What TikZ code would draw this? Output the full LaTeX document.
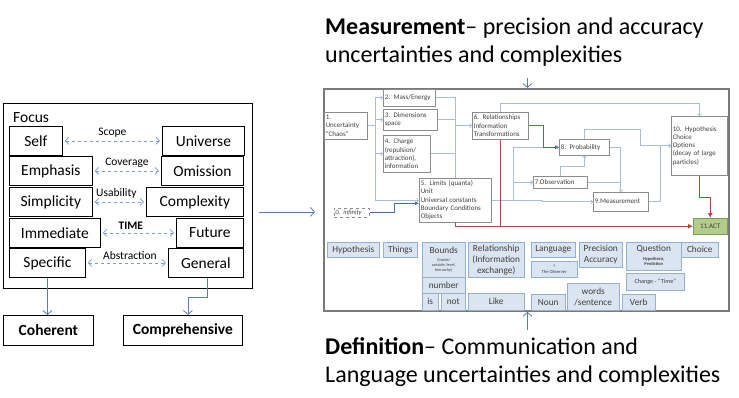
\documentclass[tikz,border=0pt]{standalone}
\usepackage{fontspec}
\setmainfont{Carlito}
\usetikzlibrary{arrows.meta}

\definecolor{linkblue}{HTML}{7F9CC4}
\definecolor{arrblue}{HTML}{5B7DB1}
\definecolor{flowgray}{HTML}{A8BDD6}
\definecolor{flowblue}{HTML}{4A6DA7}
\definecolor{actred}{HTML}{B5443F}
\definecolor{actgreen}{HTML}{B3CC8A}
\definecolor{actedge}{HTML}{7E9A5A}
\definecolor{termfill}{HTML}{DAE5F1}
\definecolor{termdraw}{HTML}{95B0CF}
\definecolor{panelgray}{HTML}{7A7A7A}
\definecolor{boxgray}{HTML}{8C8C8C}
\definecolor{inktext}{HTML}{404040}

\begin{document}
\begin{tikzpicture}[x=1pt, y=-1pt,
	pairbox/.style={draw, line width=0.8pt, anchor=north west, inner sep=1pt, minimum height=29pt, font=\fontsize{15.5}{17}\selectfont},
	endbox/.style={draw, line width=0.8pt, anchor=north west, inner sep=1pt, minimum height=30pt, font=\fontsize{15.5}{17}\selectfont\bfseries},
	dasharr/.style={draw=linkblue, dashed, line width=0.7pt, {Straight Barb[length=3.5pt,width=7pt]}-{Straight Barb[length=3.5pt,width=7pt]}, shorten <=2pt, shorten >=2pt},
	scopelabel/.style={font=\fontsize{11.5}{13}\selectfont, inner sep=1pt, above=2pt},
	arr/.style={draw=arrblue, line width=0.8pt, -{Straight Barb[length=4pt,width=9pt]}},
	stepbox/.style={draw=boxgray, fill=white, line width=0.5pt, anchor=north west, inner sep=1.5pt, align=left, text=inktext, font=\fontsize{7}{8.3}\selectfont},
	flow/.style={draw=flowgray, line width=0.6pt},
	flowarr/.style={flow, -{Straight Barb[length=2pt,width=4pt]}},
	mainflow/.style={draw=flowblue, line width=1.3pt, -{Latex[length=4pt,width=4pt]}},
	act/.style={draw=actred, line width=1.4pt, -{Latex[length=5pt,width=5pt]}},
	term/.style={draw=termdraw, fill=termfill, line width=0.5pt, anchor=north west, inner sep=1pt, align=center, text=inktext, font=\fontsize{9.3}{11}\selectfont},
]

	\useasboundingbox (0,0) rectangle (739,397);

	% --- Focus panel ---
	\node[draw, line width=0.8pt, anchor=north west, minimum width=249pt, minimum height=185pt, inner sep=0] (focusbox) at (3,103) {};
	\node[anchor=west, inner sep=0, font=\fontsize{15.5}{17}\selectfont] (focus) at (13,118) {Focus};

	\node[pairbox, minimum width=53pt] (self) at (9,126) {Self};
	\node[pairbox, minimum width=82pt] (universe) at (162,126) {Universe};
	\node[pairbox, minimum width=83pt] (emphasis) at (9,156) {Emphasis};
	\node[pairbox, minimum width=82pt] (omission) at (161,156) {Omission};
	\node[pairbox, minimum width=83pt] (simplicity) at (9,187) {Simplicity};
	\node[pairbox, minimum width=97pt] (complexity) at (146,187) {Complexity};
	\node[pairbox, minimum width=91pt] (immediate) at (9,218) {Immediate};
	\node[pairbox, minimum width=67pt] (future) at (176,218) {Future};
	\node[pairbox, minimum width=76pt] (specific) at (9,248) {Specific};
	\node[pairbox, minimum width=75pt] (general) at (168,248) {General};

	% --- Dimensions between the pairs ---
	\draw[dasharr] (self) -- (universe) node[scopelabel, midway] (scope) {Scope};
	\draw[dasharr] (emphasis) -- (omission) node[scopelabel, midway] (coverage) {Coverage};
	\draw[dasharr] (simplicity) -- (complexity) node[scopelabel, midway, xshift=-3pt] (usability) {Usability};
	\draw[dasharr] (immediate) -- (future) node[scopelabel, pos=0.4, font=\fontsize{11.5}{13}\selectfont\bfseries] (time) {TIME};
	\draw[dasharr] (specific) -- (general) node[scopelabel, midway, xshift=3pt] (abstraction) {Abstraction};

	% --- Outcomes ---
	\node[endbox, minimum width=90pt] (coherent) at (3,315) {Coherent};
	\node[endbox, minimum width=119pt] (comprehensive) at (123,315) {Comprehensive};

	\draw[arr] (specific.south) -- (specific.south |- coherent.north);
	\draw[arr] ([xshift=1.5pt]general.south) -- ++(0,20) -| ([xshift=5pt]comprehensive.north);

	% --- Measurement / definition panel ---
	\node[draw=panelgray, line width=1.8pt, anchor=north west, minimum width=405pt, minimum height=222pt, inner sep=0] (inner) at (323,88) {};

	\draw[arr] ([shift={(6,16)}]focusbox.east) -- ([shift={(-8,12)}]inner.west);

	\node[anchor=north west, align=left, inner sep=0, font=\fontsize{24}{28}\selectfont] (meas) at (325,18) {\textbf{Measurement}– precision and accuracy\\uncertainties and complexities};
	\node[anchor=north west, align=left, inner sep=0, font=\fontsize{24}{28}\selectfont] (defn) at (325,337) {\textbf{Definition}– Communication and\\Language uncertainties and complexities};

	\draw[arr] ([shift={(1,-10)}]inner.north) -- ([xshift=1pt]inner.north);
	\draw[arr] ([shift={(1,18)}]inner.south) -- ([xshift=1pt]inner.south);

	% --- Steps ---
	\node[stepbox, text width=40pt, minimum height=27pt] (n1) at (324,112) {1.\\Uncertainty\\“Chaos”};
	\node[stepbox, text width=49pt, minimum height=17pt] (n2) at (383,89) {2. Mass/Energy};
	\node[stepbox, text width=51pt, minimum height=21pt] (n3) at (383,109) {3. Dimensions\\space};
	\node[stepbox, text width=44pt, minimum height=37pt] (n4) at (383,135) {4. Charge\\(repulsion/\\attraction),\\information};
	\node[stepbox, text width=69pt, minimum height=44pt] (n5) at (419,178) {5. Limits (quanta)\\Unit\\Universal constants\\Boundary Conditions\\Objects};
	\node[stepbox, dashed, text width=33pt, minimum height=9pt, inner sep=1pt, font=\fontsize{6.5}{7.5}\selectfont\itshape] (n0) at (334,208) {0. infinity};
	\node[stepbox, text width=53pt, minimum height=27pt] (n6) at (472,112) {6. Relationships\\Information\\Transformations};
	\node[stepbox, text width=51pt, minimum height=12pt] (n7) at (533,176) {7.Observation};
	\node[stepbox, text width=47pt, minimum height=16pt] (n8) at (559,139) {8. Probability};
	\node[stepbox, text width=52pt, minimum height=19pt] (n9) at (593,192) {9.Measurement};
	\node[stepbox, text width=53pt, minimum height=59pt] (n10) at (671,116) {10. Hypothesis\\Choice\\Options\\(decay of large\\particles)};
	\node[stepbox, draw=actedge, fill=actgreen, align=center, text width=31pt, minimum height=16pt] (n11) at (693,218) {11.ACT};

	% --- Step connectors ---
	\draw[flow] (n1.east) -- ++(8,0) coordinate (busa);
	\draw[flowarr] (busa) |- (n2.west);
	\draw[flowarr] (busa) |- (n3.west);
	\draw[flowarr] (busa) |- (n4.west);
	\draw[flowarr] (busa) |- (n5.west);

	\coordinate (busb) at ([xshift=-17pt]n6.west);
	\draw[flow] (n2.east) -| (busb);
	\draw[flow] (n3.east) -| (busb);
	\draw[flow] (n4.east) -| (busb);
	\draw[flow] (n5.north -| busb) -- (busb);
	\draw[flowarr] (busb) -- (n6.west);

	\draw[flowarr] (n6.north) -- ++(0,-9) -| (n10.north);

	\coordinate (busc) at ([xshift=22pt]n5.east);
	\draw[flowarr] (n5.east) -- ++(51,0) |- (n9.west);
	\draw[flowarr] (busc) |- (n7.west);
	\draw[flowarr] (busc) |- (n8.west);
	\draw[flowarr] (n7.north) -- ++(0,-10) -| (n8.south);
	\draw[flowarr] (n8.east) -| (n9.north);
	\draw[flow] (n7.east) -- (n7.east -| n9.north);
	\draw[flowarr] (n8.north) -- ++(0,-10) -| ([xshift=-31pt]n10.west) -- (n10.west);
	\draw[flowarr] (n9.east) -| ([xshift=-11pt]n10.west) -- (n10.west);

	\draw[mainflow] (n6.east) -- ++(15,0) |- (n8.west);
	\draw[mainflow] (n0.east) -- ++(25,0) |- ([shift={(0,3)}]n5.west);

	\draw[draw=actred, line width=1.4pt] (n5.south) |- (n6.south |- n11.west);
	\draw[act] (n6.south) |- (n11.west);
	\draw[act] (n10.south) -- ++(0,22) -| (n11.north);

	% --- Language terms ---
	\node[term, minimum width=52pt, minimum height=15pt] (hyp) at (327,242) {Hypothesis};
	\node[term, minimum width=34pt, minimum height=15pt] (things) at (383,242) {Things};
	\node[term, minimum width=43pt, minimum height=35pt] (bounds) at (422,242) {Bounds\\[-3pt]{\fontsize{4.2}{5.2}\selectfont\begin{tabular}[t]{@{}c@{}}(inside/\\outside, level,\\hierarchy)\end{tabular}}};
	\node[term, minimum width=43pt, minimum height=16pt] (number) at (422,277) {number};
	\node[term, minimum width=16pt, minimum height=17pt] (is) at (422,293) {is};
	\node[term, minimum width=24pt, minimum height=17pt] (not) at (441,293) {not};
	\node[term, minimum width=56pt, minimum height=35pt] (rel) at (468,242) {Relationship\\(Information\\exchange)};
	\node[term, minimum width=56pt, minimum height=17pt] (like) at (468,293) {Like};
	\node[term, minimum width=44pt, minimum height=15pt] (lang) at (531,242) {Language};
	\node[term, minimum width=46pt, minimum height=16pt] (obs) at (531,261) {{\fontsize{4.6}{5.6}\selectfont\begin{tabular}{@{}c@{}}I\\The Observer\end{tabular}}};
	\node[term, minimum width=43pt, minimum height=25pt] (prec) at (579,242) {Precision\\Accuracy};
	\node[term, minimum width=55pt, minimum height=28pt] (quest) at (626,242) {Question\\[-2pt]{\fontsize{4.4}{5.2}\selectfont\bfseries\begin{tabular}[t]{@{}c@{}}Hypothesis,\\Prediction\end{tabular}}};
	\node[term, minimum width=37pt, minimum height=15pt] (choice) at (681,242) {Choice};
	\node[term, minimum width=58pt, minimum height=17pt, font=\fontsize{6.2}{7}\selectfont] (change) at (626,273) {Change - “Time”};
	\node[term, minimum width=34pt, minimum height=16pt] (noun) at (531,294) {Noun};
	\node[term, minimum width=52pt, minimum height=27pt] (words) at (567,283) {words\\/sentence};
	\node[term, minimum width=33pt, minimum height=16pt] (verb) at (622,294) {Verb};

\end{tikzpicture}
\end{document}
